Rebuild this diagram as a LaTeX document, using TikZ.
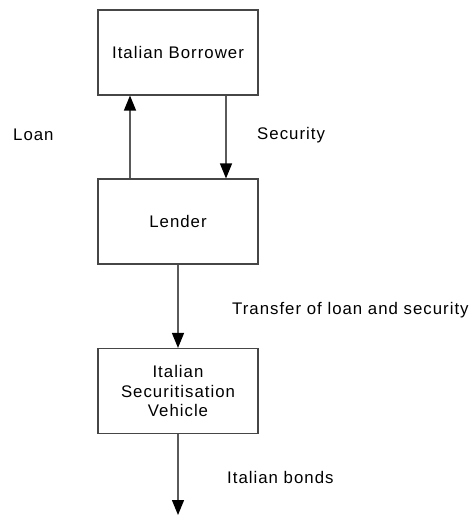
\documentclass[tikz,border=0pt]{standalone}
\usepackage{fontspec}
\setmainfont{Liberation Sans}[LetterSpace=6]
\usetikzlibrary{arrows.meta,positioning}
\definecolor{edge}{RGB}{90,90,90}
\definecolor{frame}{RGB}{70,70,70}

\begin{document}
\begin{tikzpicture}[x=1pt,y=-1pt,font=\fontsize{16.8}{19.5}\selectfont,
    party/.style={draw=frame,line width=1.1pt,minimum width=160pt,minimum height=85pt,align=center,inner sep=2pt},
    flow/.style={draw=edge,line width=1.3pt,-{Triangle[width=12pt,length=15pt,black]}},
    tag/.style={anchor=west,inner sep=0pt}]
    \useasboundingbox (0,0) rectangle (470,515);
    \node[party] (borrower) at (178,52.5) {Italian Borrower};
    \node[party] (lender) at (178,221.5) {Lender};
    \node[party] (vehicle) at (178,391) {Italian\\Securitisation\\Vehicle};
    \coordinate (bonds) at (178,515);
    \draw[flow] ([xshift=-48pt]lender.north) -- ([xshift=-48pt]borrower.south);
    \draw[flow] ([xshift=48pt]borrower.south) -- ([xshift=48pt]lender.north);
    \draw[flow] (lender) -- (vehicle);
    \draw[flow] (vehicle) -- (bonds);
    \node[tag] (loan) at (13,135) {Loan};
    \node[tag] (security) at (257,135) {Security};
    \node[tag] (transfer) at (232,310) {Transfer of loan and security};
    \node[tag] (italbonds) at (227,477) {Italian bonds};
  \end{tikzpicture}
\end{document}
